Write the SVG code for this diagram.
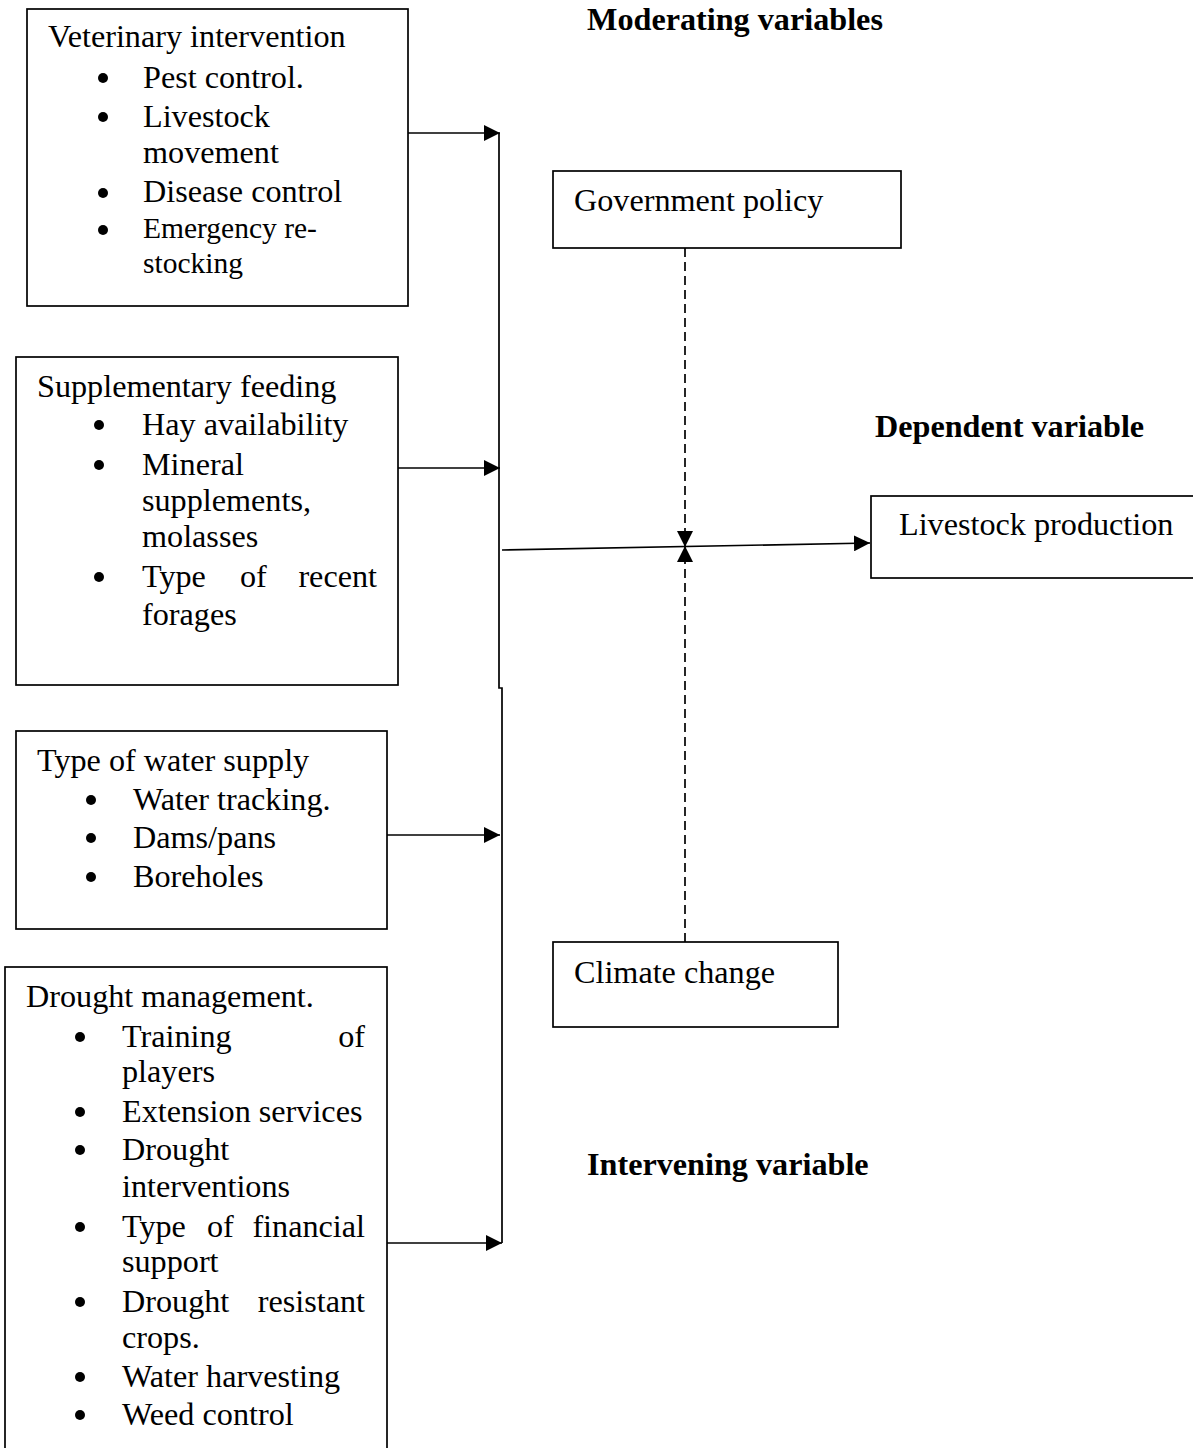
<svg xmlns="http://www.w3.org/2000/svg" width="1193" height="1448" viewBox="0 0 1193 1448">
<defs>
<style>
.box{fill:#fff;stroke:#000;stroke-width:1.7}
.t{font-family:"Liberation Serif","Times New Roman",serif;font-size:32.2px;fill:#000}
.s{font-size:29.5px}
.b{font-weight:bold}
.bul circle{fill:#000}
.c{fill:none;stroke:#000;stroke-width:1.7}
.d{stroke-dasharray:9 5}
</style>
<marker id="ah" markerUnits="userSpaceOnUse" markerWidth="17" markerHeight="16" refX="16" refY="8" orient="auto" viewBox="0 0 17 16">
<path d="M0,0 L16,8 L0,16 z" fill="#000" stroke="none"/>
</marker>
</defs>
<rect width="1193" height="1448" fill="#fff"/>

<g id="labels" class="t b">
<text x="587" y="30">Moderating variables</text>
<text x="875" y="437">Dependent variable</text>
<text x="587" y="1175">Intervening variable</text>
</g>

<g id="veterinary">
<rect class="box" x="27" y="9" width="381" height="297"/>
<g class="t">
<text x="48" y="47">Veterinary intervention</text>
<text x="143" y="88">Pest control.</text>
<text x="143" y="127">Livestock</text>
<text x="143" y="163">movement</text>
<text x="143" y="202">Disease control</text>
<text class="s" x="143" y="238">Emergency re-</text>
<text class="s" x="143" y="273">stocking</text>
</g>
<g class="bul">
<circle cx="103" cy="78" r="5"/>
<circle cx="103" cy="117" r="5"/>
<circle cx="103" cy="193" r="5"/>
<circle cx="103" cy="230" r="5"/>
</g>
</g>

<g id="supplementary">
<rect class="box" x="16" y="357" width="382" height="328"/>
<g class="t">
<text x="37" y="397">Supplementary feeding</text>
<text x="142" y="435">Hay availability</text>
<text x="142" y="475">Mineral</text>
<text x="142" y="511">supplements,</text>
<text x="142" y="547">molasses</text>
<text x="142" y="587">Type</text>
<text x="240" y="587">of</text>
<text x="377" y="587" text-anchor="end">recent</text>
<text x="142" y="625">forages</text>
</g>
<g class="bul">
<circle cx="99" cy="425" r="5"/>
<circle cx="99" cy="465" r="5"/>
<circle cx="99" cy="577" r="5"/>
</g>
</g>

<g id="water">
<rect class="box" x="16" y="731" width="371" height="198"/>
<g class="t">
<text x="37" y="771">Type of water supply</text>
<text x="133" y="810">Water tracking.</text>
<text x="133" y="848">Dams/pans</text>
<text x="133" y="887">Boreholes</text>
</g>
<g class="bul">
<circle cx="91" cy="800" r="5"/>
<circle cx="91" cy="838" r="5"/>
<circle cx="91" cy="877" r="5"/>
</g>
</g>

<g id="drought">
<rect class="box" x="5" y="967" width="382" height="500"/>
<g class="t">
<text x="26" y="1007">Drought management.</text>
<text x="122" y="1047">Training</text>
<text x="365" y="1047" text-anchor="end">of</text>
<text x="122" y="1082">players</text>
<text x="122" y="1122">Extension services</text>
<text x="122" y="1160">Drought</text>
<text x="122" y="1197">interventions</text>
<text x="122" y="1237">Type</text>
<text x="207" y="1237">of</text>
<text x="365" y="1237" text-anchor="end">financial</text>
<text x="122" y="1272">support</text>
<text x="122" y="1312">Drought</text>
<text x="365" y="1312" text-anchor="end">resistant</text>
<text x="122" y="1348">crops.</text>
<text x="122" y="1387">Water harvesting</text>
<text x="122" y="1425">Weed control</text>
</g>
<g class="bul">
<circle cx="80" cy="1037" r="5"/>
<circle cx="80" cy="1112" r="5"/>
<circle cx="80" cy="1150" r="5"/>
<circle cx="80" cy="1227" r="5"/>
<circle cx="80" cy="1302" r="5"/>
<circle cx="80" cy="1377" r="5"/>
<circle cx="80" cy="1415" r="5"/>
</g>
</g>

<g id="government">
<rect class="box" x="553" y="171" width="348" height="77"/>
<text class="t" x="574" y="211">Government policy</text>
</g>

<g id="climate">
<rect class="box" x="553" y="942" width="285" height="85"/>
<text class="t" x="574" y="983">Climate change</text>
</g>

<g id="livestock">
<rect class="box" x="871" y="496" width="330" height="82"/>
<text class="t" x="899" y="535">Livestock production</text>
</g>

<g id="connectors">
<line class="c" x1="408" y1="133" x2="500" y2="133" marker-end="url(#ah)"/>
<line class="c" x1="398" y1="468" x2="500" y2="468" marker-end="url(#ah)"/>
<line class="c" x1="387" y1="835" x2="500" y2="835" marker-end="url(#ah)"/>
<line class="c" x1="387" y1="1243" x2="502" y2="1243" marker-end="url(#ah)"/>
<path class="c" d="M499,133 V688 H502 V1243"/>
<line class="c" x1="502" y1="550" x2="870" y2="543" marker-end="url(#ah)"/>
<line class="c d" x1="685" y1="248" x2="685" y2="547" marker-end="url(#ah)"/>
<line class="c d" x1="685" y1="942" x2="685" y2="546" marker-end="url(#ah)"/>
</g>
</svg>
